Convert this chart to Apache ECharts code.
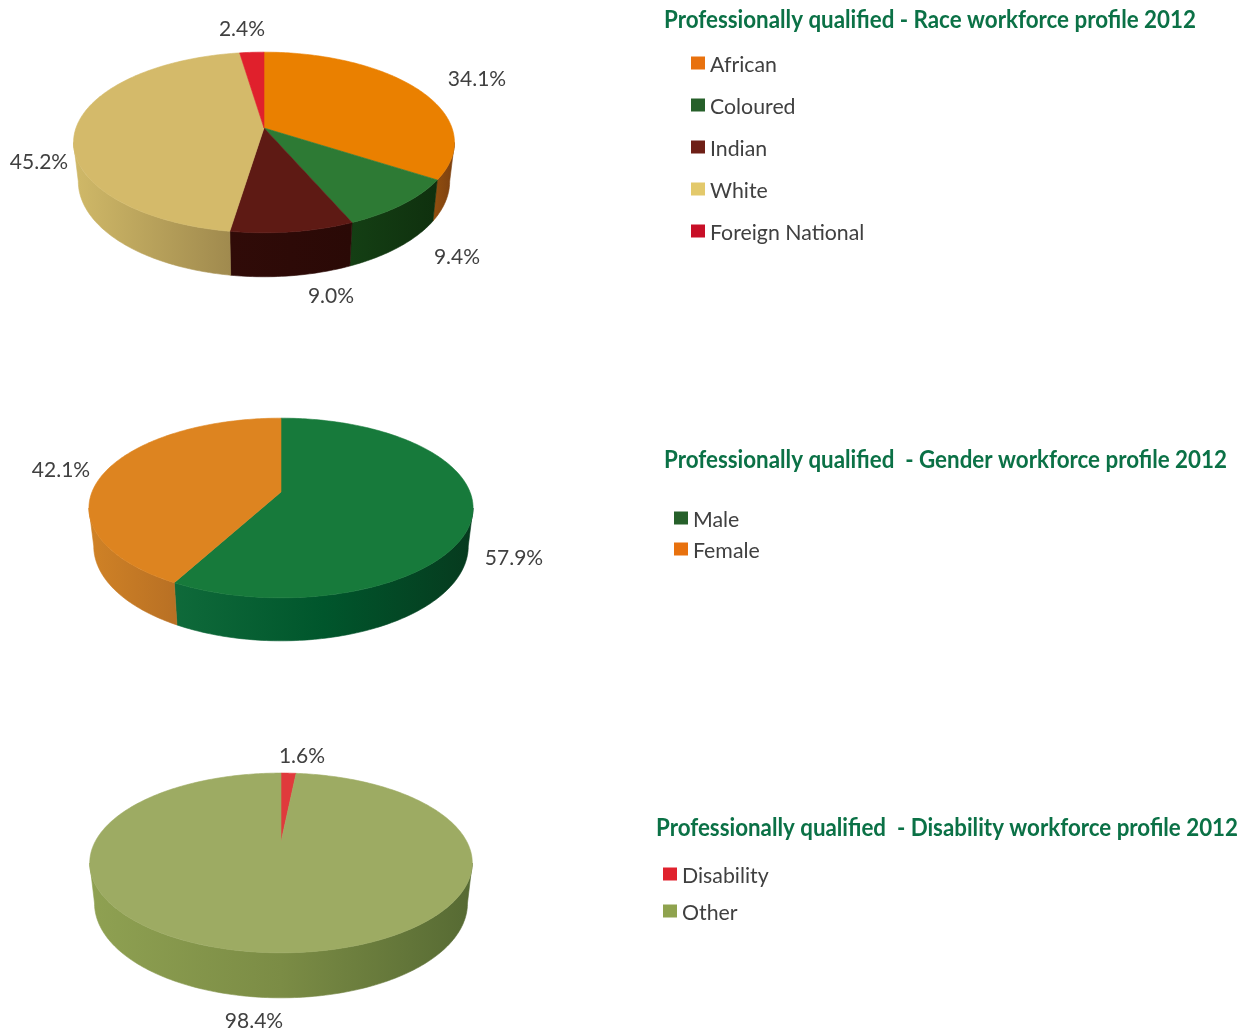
<!DOCTYPE html>
<html>
<head>
<meta charset="utf-8">
<style>html,body{margin:0;padding:0;background:#fff}#chart{width:1241px;height:1031px}</style>
<script src="https://cdn.jsdelivr.net/npm/echarts@6/dist/echarts.min.js"></script>
</head>
<body>
<div id="chart"></div>
<script>
// Workforce shares, percent
const raceCategories = ['African', 'Coloured', 'Indian', 'White', 'Foreign National'];
const raceValues = [34.1, 9.4, 9.0, 45.2, 2.4];
const genderCategories = ['Male', 'Female'];
const genderValues = [57.9, 42.1];
const disabilityCategories = ['Disability', 'Other'];
const disabilityValues = [1.6, 98.4];

const raceTitle = 'Professionally qualified - Race workforce profile 2012';
const genderTitle = 'Professionally qualified  - Gender workforce profile 2012';
const disabilityTitle = 'Professionally qualified  - Disability workforce profile 2012';

const TEXT = '#404040';
const BODY_FONT = 'Lato';
const TITLE_CSS = 'bold 25px Lato';

// Per-slice styling: key = legend swatch, top = upper face, wall = side gradient left to right,
// label = centre of the value text
const raceStyle = [
  { key: '#e8710e', top: '#ea8000', wall: ['#94500f', '#7a3f10'], label: [477, 79] },
  { key: '#26602a', top: '#2d7a34', wall: ['#143f14', '#0f300e'], label: [457, 257] },
  { key: '#6e1f16', top: '#5e1a14', wall: ['#300b08', '#2a0906'], label: [331, 296] },
  { key: '#e3c96b', top: '#d4ba6a', wall: ['#d0b968', '#a08a4e'], label: [39, 162] },
  { key: '#c80f27', top: '#e0202c', wall: ['#e0202c', '#e0202c'], label: [242, 29] }
];
const genderStyle = [
  { key: '#26602a', top: '#177a3b', wall: ['#0f6a3a', '#00562c', '#063a1e'], label: [514, 558] },
  { key: '#e8710e', top: '#dd8420', wall: ['#d08226', '#b87024'], label: [61, 470] }
];
const disabilityStyle = [
  { key: '#e0222e', top: '#e03a3c', wall: ['#e03a3c', '#e03a3c'], label: [302, 756] },
  { key: '#8fa34e', top: '#9dab63', wall: ['#8fa152', '#7b8c45', '#566a33'], label: [254, 1021] }
];

// Tilted-disc projection: apex (cx, cy), horizontal radius r, depth radius s, perspective p, wall height h
const raceDisc = { cx: 264, cy: 128, r: 188, s: 88, p: 0.16, h: 44 };
const genderDisc = { cx: 281, cy: 492, r: 189, s: 87, p: 0.178, h: 43 };
const disabilityDisc = { cx: 281, cy: 842, r: 186, s: 85, p: 0.233, h: 45 };

function project(d, t, drop) {
  const u = Math.sin(t), v = -Math.cos(t), w = 1 - d.p * v;
  const x = d.r * u / w, y = d.s * v / w;
  if (!drop) return [d.cx + x, d.cy + y];
  return [d.cx + x * 0.975, d.cy + y + d.h * (0.86 + 0.14 * v)];
}

function arc(d, a, b, drop) {
  const n = Math.max(2, Math.ceil((b - a) * 60));
  const pts = [];
  for (let i = 0; i <= n; i++) pts.push(project(d, a + (b - a) * i / n, drop));
  return pts;
}

function sliceSeries(names, values, styles, disc) {
  const total = values.reduce((a, b) => a + b, 0);
  let acc = 0;
  return names.map((name, i) => {
    const start = acc / total * Math.PI * 2;
    acc += values[i];
    const end = acc / total * Math.PI * 2;
    const st = styles[i];
    return {
      type: 'custom',
      name,
      coordinateSystem: 'none',
      silent: true,
      animation: false,
      itemStyle: { color: st.key },
      data: [[values[i]]],
      renderItem(params, api) {
        const children = [];
        const edge = Math.acos(-disc.p);
        const a = Math.max(start, edge), b = Math.min(end, Math.PI * 2 - edge);
        if (b > a) {
          const stops = st.wall.map((c, k) => ({ offset: k / (st.wall.length - 1), color: c }));
          const fill = { type: 'linear', x: 0, y: 0, x2: 1, y2: 0, colorStops: stops };
          children.push({
            type: 'polygon',
            shape: { points: arc(disc, a, b, false).concat(arc(disc, a, b, true).reverse()) },
            style: { fill, stroke: fill, lineWidth: 0.6 }
          });
        }
        children.push({
          type: 'polygon',
          shape: { points: [[disc.cx, disc.cy]].concat(arc(disc, start, end, false)) },
          style: { fill: st.top, stroke: st.top, lineWidth: 0.6 }
        });
        children.push({
          type: 'text',
          z2: 10,
          style: {
            x: st.label[0], y: st.label[1],
            text: api.value(0).toFixed(1) + '%',
            align: 'center', verticalAlign: 'middle',
            fill: TEXT, font: '21px ' + BODY_FONT
          }
        });
        return { type: 'group', children };
      }
    };
  });
}

// Legend names sit a little below their swatches, hence the rich-text top padding
function legendFor(names, left, top, gap) {
  return {
    data: names, left, top,
    orient: 'vertical',
    itemWidth: 14, itemHeight: 13, itemGap: gap,
    icon: 'rect',
    selectedMode: false,
    padding: 0,
    formatter: name => '{t|' + name + '}',
    textStyle: {
      rich: {
        t: { color: TEXT, fontFamily: BODY_FONT, fontSize: 21.3, lineHeight: 21, padding: [5, 0, 0, 0] }
      }
    }
  };
}

// The headings are a condensed bold face: a bold face squeezed to each heading's set width
const ruler = document.createElement('canvas').getContext('2d');
ruler.font = TITLE_CSS;

function headingFor(text, x, y, width) {
  return {
    type: 'text',
    x, y,
    originX: 0,
    scaleX: width / ruler.measureText(text).width,
    style: { text, font: TITLE_CSS, fill: '#0b7146', verticalAlign: 'middle' }
  };
}

const chart = echarts.init(document.getElementById('chart'), null, { renderer: 'canvas' });
chart.setOption({
  animation: false,
  backgroundColor: '#fff',
  graphic: [
    headingFor(raceTitle, 664, 20, 532),
    headingFor(genderTitle, 664, 460, 563),
    headingFor(disabilityTitle, 656, 828, 582)
  ],
  legend: [
    legendFor(raceCategories, 691, 50, 16),
    legendFor(genderCategories, 674, 505, 5),
    legendFor(disabilityCategories, 663, 861, 11)
  ],
  series: [
    ...sliceSeries(raceCategories, raceValues, raceStyle, raceDisc),
    ...sliceSeries(genderCategories, genderValues, genderStyle, genderDisc),
    ...sliceSeries(disabilityCategories, disabilityValues, disabilityStyle, disabilityDisc)
  ]
});
</script>
</body>
</html>
